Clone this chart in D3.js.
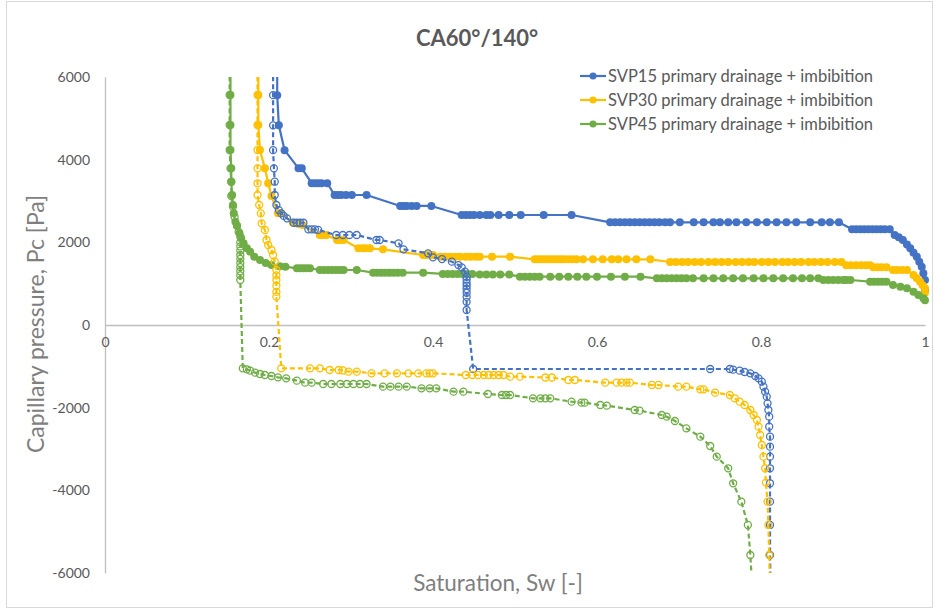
<!DOCTYPE html>
<html>
<head>
<meta charset="utf-8">
<script src="https://cdn.jsdelivr.net/npm/d3@7"></script>
<style>
  body { margin: 0; background: #fff; }
  svg { display: block; }
</style>
</head>
<body>
<svg id="chart" width="935" height="612"></svg>
<script>
// ---- Data: water saturation Sw [-] and capillary pressure Pc [Pa] ----
const chartTitle = "CA60°/140°";
const xTitle = "Saturation, Sw [-]";
const yTitle = "Capillary pressure, Pc [Pa]";
const xTicks = [0, 0.2, 0.4, 0.6, 0.8, 1];
const xTickLabels = ["0", "0.2", "0.4", "0.6", "0.8", "1"];
const yTicks = [-6000, -4000, -2000, 0, 2000, 4000, 6000];
const yTickLabels = ["-6000", "-4000", "-2000", "0", "2000", "4000", "6000"];
const legendLabels = [
  "SVP15 primary drainage + imbibition",
  "SVP30 primary drainage + imbibition",
  "SVP45 primary drainage + imbibition"
];

// SVP15 primary drainage
const svp15DrainSw = [0.210,0.210,0.212,0.219,0.236,0.240,0.252,0.256,0.260,0.264,0.271,0.280,0.284,0.288,0.294,0.301,0.319,0.360,0.364,0.368,0.374,0.380,0.398,0.435,0.440,0.445,0.450,0.457,0.465,0.470,0.480,0.493,0.507,0.535,0.569,0.616,0.622,0.628,0.634,0.640,0.646,0.652,0.658,0.664,0.670,0.676,0.683,0.689,0.701,0.718,0.730,0.742,0.750,0.760,0.770,0.782,0.795,0.807,0.819,0.831,0.843,0.860,0.874,0.884,0.895,0.911,0.916,0.921,0.926,0.931,0.936,0.941,0.946,0.951,0.957,0.963,0.968,0.973,0.978,0.982,0.986,0.990,0.993,0.996,0.998,1.000,1.000];
const svp15DrainPc = [6600,5560,4830,4230,3790,3790,3430,3430,3430,3430,3430,3145,3145,3145,3145,3145,3145,2880,2880,2880,2880,2880,2880,2661,2661,2661,2661,2661,2661,2661,2661,2661,2661,2661,2661,2484,2484,2484,2484,2484,2484,2484,2484,2484,2484,2484,2484,2484,2484,2484,2484,2484,2484,2484,2484,2484,2484,2484,2484,2484,2484,2484,2484,2484,2484,2315,2315,2315,2315,2315,2315,2315,2315,2315,2315,2177,2120,2056,1950,1855,1750,1653,1530,1411,1250,1089,850];

// SVP15 imbibition
const svp15ImbSw = [0.205,0.205,0.205,0.205,0.206,0.207,0.207,0.209,0.212,0.215,0.218,0.222,0.230,0.234,0.238,0.242,0.248,0.252,0.256,0.260,0.282,0.290,0.298,0.307,0.331,0.335,0.358,0.364,0.394,0.400,0.411,0.423,0.431,0.435,0.439,0.441,0.441,0.441,0.441,0.441,0.441,0.441,0.441,0.441,0.449,0.738,0.762,0.766,0.774,0.780,0.787,0.793,0.797,0.801,0.803,0.805,0.807,0.808,0.809,0.810,0.810,0.811,0.811,0.811,0.811,0.811,0.811,0.811,0.811,0.812];
const svp15ImbPc = [6600,5560,4830,4230,3790,3467,3145,2903,2780,2700,2640,2580,2474,2474,2474,2474,2315,2315,2315,2300,2177,2177,2177,2177,2056,2056,1976,1831,1734,1637,1596,1532,1451,1395,1290,1170,1100,1020,950,870,780,680,560,363,-1064,-1064,-1064,-1080,-1105,-1137,-1169,-1234,-1290,-1371,-1492,-1613,-1734,-1895,-2056,-2218,-2460,-2702,-2944,-3186,-3467,-3830,-4274,-4838,-5564,-6600];

// SVP30 primary drainage
const svp30DrainSw = [0.187,0.187,0.187,0.189,0.195,0.199,0.203,0.211,0.215,0.229,0.233,0.237,0.241,0.262,0.266,0.270,0.283,0.287,0.291,0.309,0.314,0.318,0.323,0.339,0.388,0.392,0.396,0.400,0.409,0.415,0.421,0.427,0.433,0.440,0.446,0.452,0.457,0.472,0.494,0.524,0.528,0.532,0.536,0.540,0.544,0.548,0.552,0.556,0.560,0.565,0.570,0.575,0.583,0.595,0.607,0.618,0.626,0.636,0.648,0.665,0.689,0.696,0.704,0.711,0.719,0.727,0.736,0.744,0.752,0.760,0.769,0.777,0.785,0.792,0.801,0.809,0.817,0.826,0.833,0.841,0.849,0.858,0.865,0.873,0.881,0.890,0.898,0.904,0.910,0.916,0.922,0.928,0.933,0.937,0.942,0.947,0.953,0.961,0.966,0.972,0.978,0.986,0.990,0.994,0.997,1.000,1.000];
const svp30DrainPc = [6600,5564,4838,4233,3790,3428,3120,2702,2702,2480,2460,2440,2420,2177,2177,2177,2056,2056,2056,1855,1855,1855,1855,1831,1693,1693,1693,1693,1653,1653,1653,1653,1653,1653,1653,1653,1653,1653,1653,1589,1589,1589,1589,1589,1589,1589,1589,1589,1589,1589,1589,1589,1589,1589,1589,1589,1589,1589,1589,1589,1524,1524,1524,1524,1524,1524,1524,1524,1524,1524,1524,1524,1524,1524,1524,1524,1524,1524,1524,1524,1524,1524,1524,1524,1524,1524,1524,1444,1444,1444,1444,1444,1444,1396,1396,1396,1396,1330,1330,1330,1330,1210,1130,1048,960,887,780];

// SVP30 imbibition
const svp30ImbSw = [0.186,0.186,0.186,0.186,0.186,0.186,0.186,0.188,0.190,0.191,0.195,0.197,0.199,0.203,0.205,0.207,0.209,0.209,0.209,0.209,0.209,0.209,0.215,0.250,0.262,0.274,0.285,0.290,0.297,0.307,0.325,0.341,0.356,0.370,0.382,0.392,0.396,0.400,0.440,0.448,0.455,0.462,0.468,0.474,0.480,0.486,0.494,0.506,0.537,0.545,0.565,0.573,0.610,0.624,0.630,0.636,0.640,0.667,0.675,0.699,0.709,0.726,0.730,0.744,0.762,0.768,0.774,0.780,0.787,0.791,0.795,0.797,0.799,0.801,0.803,0.805,0.806,0.808,0.809,0.810,0.811];
const svp30ImbPc = [6600,5564,4838,4233,3790,3428,3145,2903,2702,2460,2298,2056,1935,1814,1693,1532,1331,1200,1089,950,800,685,-1048,-1048,-1048,-1089,-1089,-1100,-1129,-1129,-1169,-1169,-1169,-1169,-1169,-1169,-1169,-1169,-1210,-1210,-1210,-1210,-1210,-1210,-1210,-1210,-1250,-1250,-1270,-1270,-1331,-1331,-1395,-1395,-1395,-1395,-1395,-1451,-1451,-1492,-1492,-1556,-1556,-1637,-1693,-1774,-1855,-1935,-2056,-2177,-2298,-2460,-2661,-2903,-3186,-3467,-3815,-4274,-4838,-5564,-6600];

// SVP45 primary drainage
const svp45DrainSw = [0.153,0.153,0.153,0.153,0.154,0.154,0.155,0.156,0.157,0.159,0.161,0.164,0.166,0.169,0.173,0.177,0.182,0.189,0.196,0.203,0.213,0.220,0.234,0.238,0.242,0.246,0.250,0.262,0.267,0.272,0.277,0.282,0.287,0.291,0.307,0.327,0.332,0.337,0.342,0.347,0.352,0.357,0.363,0.388,0.412,0.418,0.424,0.430,0.436,0.442,0.448,0.457,0.465,0.473,0.482,0.493,0.506,0.512,0.518,0.524,0.530,0.543,0.554,0.565,0.576,0.587,0.600,0.617,0.634,0.653,0.673,0.679,0.685,0.691,0.697,0.703,0.709,0.717,0.730,0.742,0.754,0.766,0.778,0.791,0.803,0.815,0.827,0.839,0.850,0.860,0.870,0.876,0.882,0.888,0.894,0.900,0.904,0.909,0.933,0.938,0.943,0.948,0.953,0.961,0.970,0.978,0.986,0.992,0.998,1.000];
const svp45DrainPc = [6600,5564,4838,4233,3790,3467,3145,2903,2702,2500,2400,2218,2100,1976,1855,1774,1653,1572,1500,1451,1420,1411,1371,1371,1371,1371,1371,1331,1331,1331,1331,1331,1331,1331,1331,1266,1266,1266,1266,1266,1266,1266,1266,1266,1235,1235,1235,1235,1235,1235,1235,1220,1220,1220,1220,1220,1169,1169,1169,1169,1169,1169,1169,1169,1169,1169,1169,1169,1169,1169,1129,1129,1129,1129,1129,1129,1129,1129,1129,1129,1129,1129,1129,1129,1129,1129,1129,1129,1129,1129,1129,1089,1089,1089,1089,1089,1089,1089,1048,1048,1048,1048,1048,968,927,887,806,726,645,600];

// SVP45 imbibition
const svp45ImbSw = [0.152,0.152,0.152,0.152,0.153,0.154,0.154,0.156,0.158,0.161,0.163,0.165,0.165,0.165,0.165,0.165,0.165,0.165,0.165,0.165,0.165,0.165,0.168,0.173,0.177,0.183,0.189,0.195,0.203,0.211,0.221,0.234,0.244,0.252,0.266,0.276,0.287,0.295,0.303,0.311,0.319,0.339,0.348,0.358,0.368,0.386,0.396,0.404,0.425,0.437,0.467,0.484,0.489,0.494,0.522,0.531,0.537,0.543,0.569,0.581,0.585,0.604,0.612,0.646,0.652,0.679,0.685,0.695,0.709,0.726,0.738,0.746,0.760,0.766,0.776,0.784,0.787,0.790];
const svp45ImbPc = [6600,5564,4838,4233,3790,3467,3120,2863,2620,2400,2250,2137,2000,1900,1800,1693,1600,1500,1400,1300,1200,1089,-1048,-1072,-1105,-1153,-1185,-1210,-1234,-1266,-1290,-1347,-1395,-1395,-1427,-1427,-1427,-1427,-1427,-1427,-1427,-1492,-1492,-1492,-1492,-1532,-1532,-1532,-1613,-1613,-1669,-1693,-1693,-1693,-1774,-1774,-1774,-1774,-1855,-1879,-1879,-1935,-1952,-2056,-2072,-2177,-2218,-2322,-2500,-2702,-2927,-3186,-3467,-3830,-4274,-4838,-5564,-6600];

const colors = ["#4472C4", "#FFC000", "#70AD47"];

// ---- Build series table from the arrays ----
const zip = (sw, pc) => sw.map((s, i) => ({ sw: s, pc: pc[i] }));
const drainage = [
  zip(svp15DrainSw, svp15DrainPc),
  zip(svp30DrainSw, svp30DrainPc),
  zip(svp45DrainSw, svp45DrainPc)
];
const imbibition = [
  zip(svp15ImbSw, svp15ImbPc),
  zip(svp30ImbSw, svp30ImbPc),
  zip(svp45ImbSw, svp45ImbPc)
];

// ---- Layout ----
const W = 935, H = 612;
const plot = { left: 105, right: 925, top: 77, bottom: 573 };
const font = "Lato, 'Open Sans', sans-serif";

const svg = d3.select("#chart");
svg.append("rect").attr("x", 0).attr("y", 0).attr("width", W).attr("height", H).attr("fill", "#fff");
svg.append("rect").attr("x", 6.5).attr("y", 1.5).attr("width", 926).attr("height", 606)
  .attr("fill", "none").attr("stroke", "#d9d9d9").attr("stroke-width", 1);

const x = d3.scaleLinear().domain([0, 1]).range([plot.left, plot.right]);
const y = d3.scaleLinear().domain([-6000, 6000]).range([plot.bottom, plot.top]);

// Axes: no gridlines, no tick marks
const yAxis = svg.append("g").attr("transform", `translate(${plot.left},0)`)
  .call(d3.axisLeft(y).tickValues(yTicks).tickFormat((d, i) => yTickLabels[i]).tickSize(0).tickPadding(15));
const xAxis = svg.append("g").attr("transform", `translate(0,${y(0)})`)
  .call(d3.axisBottom(x).tickValues(xTicks).tickFormat((d, i) => xTickLabels[i]).tickSize(0).tickPadding(12));
[xAxis, yAxis].forEach(g => {
  g.select(".domain").attr("stroke", "#bfbfbf").attr("stroke-width", 1.3);
  g.selectAll("text").attr("fill", "#595959").style("font-family", font).style("font-size", "14px");
});

// Clip lines to the vertical extent of the plot
svg.append("clipPath").attr("id", "plotClip").append("rect")
  .attr("x", 0).attr("y", plot.top).attr("width", W).attr("height", plot.bottom - plot.top);

const line = d3.line().x(d => x(d.sw)).y(d => y(d.pc));
const marks = svg.append("g").attr("clip-path", "url(#plotClip)");

function drawDrainage(data, color) {
  const g = marks.append("g");
  g.append("path").datum(data).attr("d", line).attr("fill", "none")
    .attr("stroke", color).attr("stroke-width", 2.2).attr("stroke-linejoin", "round");
  g.selectAll("circle").data(data).join("circle")
    .attr("cx", d => x(d.sw)).attr("cy", d => y(d.pc)).attr("r", 4).attr("fill", color);
}
function drawImbibition(data, color) {
  const g = marks.append("g");
  g.append("path").datum(data).attr("d", line).attr("fill", "none")
    .attr("stroke", color).attr("stroke-width", 2.2).attr("stroke-dasharray", "5,3");
  g.selectAll("circle").data(data).join("circle")
    .attr("cx", d => x(d.sw)).attr("cy", d => y(d.pc)).attr("r", 3.5)
    .attr("fill", "none").attr("stroke", color).attr("stroke-width", 1.3);
}
drainage.forEach((d, i) => drawDrainage(d, colors[i]));
imbibition.forEach((d, i) => drawImbibition(d, colors[i]));

// Title
svg.append("text").attr("x", 477).attr("y", 46).attr("text-anchor", "middle")
  .style("font-family", font).style("font-size", "22px").style("font-weight", "bold")
  .attr("fill", "#595959").text(chartTitle);

// Axis titles
svg.append("text").attr("x", 498).attr("y", 591).attr("text-anchor", "middle")
  .style("font-family", font).style("font-size", "22.5px").attr("fill", "#7f7f7f").text(xTitle);
svg.append("text").attr("transform", "translate(44,324) rotate(-90)").attr("text-anchor", "middle")
  .style("font-family", font).style("font-size", "23px").attr("fill", "#7f7f7f").text(yTitle);

// Legend
const legend = svg.append("g");
legendLabels.forEach((label, i) => {
  const ly = 76 + i * 24;
  legend.append("line").attr("x1", 580).attr("x2", 606).attr("y1", ly).attr("y2", ly)
    .attr("stroke", colors[i]).attr("stroke-width", 2.2);
  legend.append("circle").attr("cx", 593).attr("cy", ly).attr("r", 3.5).attr("fill", colors[i]);
  legend.append("text").attr("x", 608).attr("y", ly).attr("dy", "0.35em")
    .style("font-family", font).style("font-size", "16.5px").attr("fill", "#595959").text(label);
});
</script>
</body>
</html>
